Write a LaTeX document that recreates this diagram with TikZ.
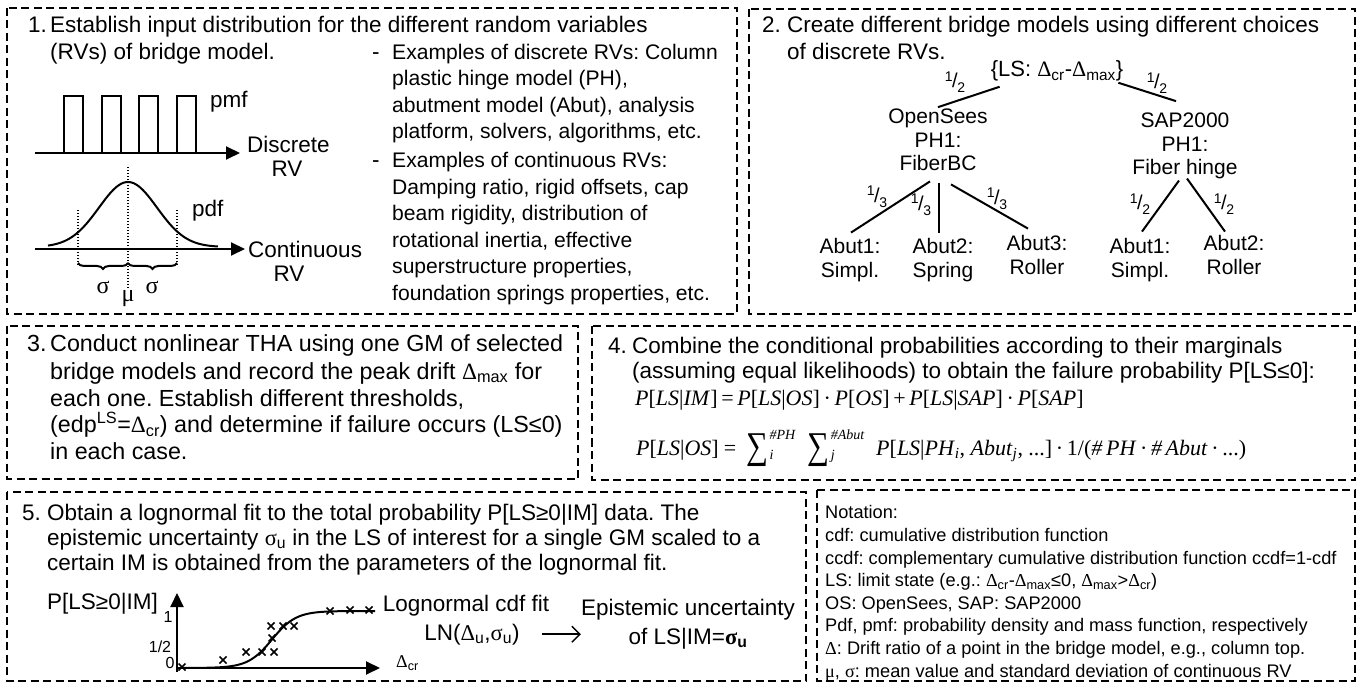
\documentclass[tikz,border=0pt]{standalone}
\usepackage{amsmath}
\usepackage{graphicx}
\usepackage{fontspec}
\setmainfont{Liberation Sans}
\newfontfamily\symf{Liberation Serif}
\usetikzlibrary{arrows.meta,decorations.pathreplacing}
\frenchspacing

% greek letters and formula bits in the serif face
\newcommand{\gr}[1]{{\symf #1}}
\newcommand{\lo}[1]{\textsubscript{#1}}
\newcommand{\fr}[2]{\raisebox{.6ex}{\fontsize{14}{14}\selectfont #1}\kern-.5pt/\kern-.5pt\raisebox{-.5ex}{\fontsize{14}{14}\selectfont #2}}
\newcommand{\sumof}[2]{\raisebox{-4pt}{\scalebox{1.1}[1.35]{\fontsize{28}{28}\selectfont ∑}}\kern1.5pt%
  \rlap{\raisebox{-5pt}{\fontsize{14}{14}\selectfont\itshape #2}}%
  \raisebox{16pt}{\fontsize{14}{14}\selectfont\itshape #1}}

\begin{document}
\begin{tikzpicture}[x=1pt, y=-1pt, font=\fontsize{22.5}{26.5}\selectfont,
  stage/.style={line width=1.7pt, dash pattern=on 8pt off 4.5pt},
  txt/.style={anchor=base west, inner sep=0pt, align=left},
  ctr/.style={anchor=base, inner sep=0pt, align=center},
  tree/.style={ctr, font=\fontsize{21}{23.5}\selectfont},
  link/.style={line width=2pt},
  axisarrow/.style={line width=2pt, -{Triangle[length=14pt,width=13pt]}},
  guide/.style={line width=1.2pt, dash pattern=on 1.5pt off 1.5pt},
  brc/.style={line width=2pt, decorate, decoration={brace, mirror, amplitude=6pt}},
  frac/.style={inner sep=0pt, font=\fontsize{20}{20}\selectfont},
  note/.style={txt, font=\fontsize{18.2}{22.6}\selectfont},
  eqn/.style={txt, font=\symf\fontsize{22}{26}\selectfont},
  ticklbl/.style={inner sep=0pt, font=\fontsize{16}{16}\selectfont}]
  \useasboundingbox (0,0) rectangle (1363,684);
  % the six dashed stages
  \draw[stage] (7,8) rectangle (737,314);
  \draw[stage] (749,9) rectangle (1355,314);
  \draw[stage] (7,326) rectangle (578,479);
  \draw[stage] (592,326) rectangle (1355,480);
  \draw[stage] (7,492) rectangle (806,681);
  \draw[stage] (817,490) rectangle (1355,681);

  % stage 1: input distributions (multi-line nodes sit on their last baseline)
  \node[txt] (n1) at (28,33) {1.};
  \node[txt] (s1) at (50,59.5) {Establish input distribution for the different random variables\\(RVs) of bridge model.};
  \node[txt] (d1) at (372,59.5) {-};
  \node[txt, font=\fontsize{21.1}{26.5}\selectfont] (b1) at (392,139) {Examples of discrete RVs: Column\\plastic hinge model (PH),\\abutment model (Abut), analysis\\platform, solvers, algorithms, etc.};
  \node[txt] (d2) at (372,168) {-};
  \node[txt, font=\fontsize{21.1}{26.5}\selectfont] (b2) at (392,300.5) {Examples of continuous RVs:\\Damping ratio, rigid offsets, cap\\beam rigidity, distribution of\\rotational inertia, effective\\superstructure properties,\\foundation springs properties, etc.};
  % pmf bars
  \foreach \i in {0,...,3}
    \draw[link] (64+37.7*\i,153) |- (83+37.7*\i,96) -- (83+37.7*\i,153);
  \coordinate (pa) at (35,153);
  \coordinate (pb) at (240,153);
  \draw[axisarrow] (pa) -- (pb);
  \node[txt] (pmf) at (210,108) {pmf};
  \node[txt] (disc) at (247,153) {Discrete};
  \node[ctr] (discrv) at (287,177) {RV};
  % pdf, mean and one sigma each side
  \coordinate (ca) at (35,249);
  \coordinate (cb) at (245,249);
  \draw[axisarrow] (ca) -- (cb);
  \draw[line width=2pt] plot[domain=48:218, samples=80, smooth] (\x,{247-65*exp(-((\x-128)/29)*((\x-128)/29)/2)});
  \draw[guide] (78,210) -- (78,266);
  \draw[guide] (177,210) -- (177,266);
  \draw[guide] (128,167) -- (128,290);
  \draw[brc] (78,263) -- (128,263);
  \draw[brc] (128,263) -- (177,263);
  \node[txt] (pdf) at (192,217) {pdf};
  \node[txt] (cont) at (248,258) {Continuous};
  \node[ctr] (contrv) at (289,282) {RV};
  \node[ctr, font=\symf\fontsize{24}{24}\selectfont] (sgl) at (103,294) {σ};
  \node[ctr, font=\symf\fontsize{24}{24}\selectfont] (sgr) at (152,294) {σ};
  \node[ctr, font=\symf\fontsize{24}{24}\selectfont] (mu) at (128,302) {μ};

  % stage 2: model tree
  \node[txt] (n2) at (762,33) {2.};
  \node[txt] (s2) at (787,59.5) {Create different bridge models using different choices\\of discrete RVs.};
  \node[ctr, font=\fontsize{22}{22}\selectfont] (ls) at (1057,77) {\{LS: \gr{Δ}\lo{cr}-\gr{Δ}\lo{max}\}};
  \node[tree] (os) at (938,171) {OpenSees\\PH1:\\FiberBC};
  \node[tree] (sap) at (1185,175) {SAP2000\\PH1:\\Fiber hinge};
  \node[tree] (la) at (850,277.5) {Abut1:\\Simpl.};
  \node[tree] (lb) at (943,277.5) {Abut2:\\Spring};
  \node[tree] (lc) at (1037,274.5) {Abut3:\\Roller};
  \node[tree] (ra) at (1140,277.5) {Abut1:\\Simpl.};
  \node[tree] (rb) at (1234,274.5) {Abut2:\\Roller};
  \draw[link] ([shift={(9pt,-5pt)}]ls.south west) -- ([yshift=2pt]os.north);
  \draw[link] ([shift={(-5pt,-1pt)}]ls.south east) -- ([shift={(-9pt,12pt)}]sap.north);
  \draw[link] ([shift={(-8pt,-10pt)}]os.south) -- ([shift={(1pt,6pt)}]la.north);
  \draw[link] ([shift={(1pt,-12pt)}]os.south) -- ([shift={(-4pt,6pt)}]lb.north);
  \draw[link] ([shift={(13pt,-13pt)}]os.south) -- ([shift={(-9pt,7pt)}]lc.north);
  \draw[link] ([shift={(-6pt,-1pt)}]sap.south) -- ([shift={(2pt,7pt)}]ra.north);
  \draw[link] ([shift={(2pt,1pt)}]sap.south) -- ([shift={(-9pt,4pt)}]rb.north);
  \node[frac] (p1) at (955,82) {\fr12};
  \node[frac] (p2) at (1157,83) {\fr12};
  \node[frac] (p3) at (877,197) {\fr13};
  \node[frac] (p4) at (921,205) {\fr13};
  \node[frac] (p5) at (997,199) {\fr13};
  \node[frac] (p6) at (1140,204) {\fr12};
  \node[frac] (p7) at (1224,204) {\fr12};

  % stage 3
  \node[txt, font=\fontsize{23.3}{27}\selectfont] (n3) at (27,352) {3.};
  \node[txt, font=\fontsize{23.3}{27}\selectfont] (s3) at (50,460) {Conduct nonlinear THA using one GM of selected\\bridge models and record the peak drift \gr{Δ}\lo{max} for\\each one. Establish different thresholds,\\(edp\textsuperscript{LS}=\gr{Δ}\lo{cr}) and determine if failure occurs (LS≤0)\\in each case.};

  % stage 4
  \node[txt] (n4) at (608,354) {4.};
  \node[txt, font=\fontsize{22.5}{25}\selectfont] (s4) at (632,379) {Combine the conditional probabilities according to their marginals\\(assuming equal likelihoods) to obtain the failure probability P[LS≤0]:};
  \node[eqn] (e1) at (635,406) {\textit{P}[\textit{LS}|\textit{IM}]\,=\,\textit{P}[\textit{LS}|\textit{OS}]\,·\,\textit{P}[\textit{OS}]\,+\,\textit{P}[\textit{LS}|\textit{SAP}]\,·\,\textit{P}[\textit{SAP}]};
  \node[eqn] (e2) at (636,455) {\textit{P}[\textit{LS}|\textit{OS}]\hspace{5pt}=\hspace{10pt}\sumof{\#PH}{i}\hspace{12pt}\sumof{\#Abut}{j}\hspace{12pt}\textit{P}[\textit{LS}|\textit{PH}\textsubscript{\textit{i}}, \textit{Abut}\textsubscript{\textit{j}}, ...]\,·\,1/(\textit{\#\,PH}\,·\,\textit{\#\,Abut}\,·\,...)};

  % stage 5: lognormal fit
  \node[txt] (n5) at (22,520) {5.};
  \node[txt, font=\fontsize{22.5}{25}\selectfont] (s5) at (47,570) {Obtain a lognormal fit to the total probability P[LS≥0|IM] data. The\\epistemic uncertainty \gr{σ}\lo{u} in the LS of interest for a single GM scaled to a\\certain IM is obtained from the parameters of the lognormal fit.};
  \node[txt] (pls) at (47,609) {P[LS≥0|IM]};
  \coordinate (o) at (177,668);
  \coordinate (ytop) at (177,593);
  \coordinate (ybot) at (177,672);
  \coordinate (xend) at (380,668);
  \draw[axisarrow] (ybot) -- (ytop);
  \draw[axisarrow] (o) -- (xend);
  \node[ticklbl] (t1) at (168,617) {1};
  \node[ticklbl] (th) at (160,647) {1/2};
  \node[ticklbl] (t0) at (170,663) {0};
  \node[anchor=west, inner sep=0pt, font=\fontsize{18}{18}\selectfont] (dcr) at (396,663) {\gr{Δ}\lo{cr}};
  \draw[line width=2pt] plot[domain=180:375, samples=60, smooth] (\x,{668-57/(1+exp(-(\x-272)/12))});
  \foreach \px/\py in {182/667,223/660,246/652,262/652,274/652,272/638,271/626,283/626,294/626,330/611,350/610,369/610}
    \draw[line width=1.6pt] (\px-3.5,\py-3.5) -- (\px+3.5,\py+3.5) (\px-3.5,\py+3.5) -- (\px+3.5,\py-3.5);
  \node[ctr] (fit) at (466,611) {Lognormal cdf fit};
  \node[ctr] (lnp) at (472,640) {LN(\gr{Δ}\lo{u},\gr{σ}\lo{u})};
  \node[ctr, font=\fontsize{22.5}{29}\selectfont] (epi) at (688,644) {Epistemic uncertainty\\of LS|IM=\textbf{\gr{σ}\lo{u}}};
  \draw[line width=1.4pt, -{Straight Barb[length=8pt,width=16pt]}] ([xshift=22pt]lnp.east) -- (lnp.east -| epi.west);

  % notation
  \node[note] (nt) at (825,677) {Notation:\\cdf: cumulative distribution function\\ccdf: complementary cumulative distribution function ccdf=1-cdf\\LS: limit state (e.g.: \gr{Δ}\lo{cr}-\gr{Δ}\lo{max}≤0, \gr{Δ}\lo{max}>\gr{Δ}\lo{cr})\\OS: OpenSees, SAP: SAP2000\\Pdf, pmf: probability density and mass function, respectively\\\gr{Δ}: Drift ratio of a point in the bridge model, e.g., column top.\\\gr{μ}, \gr{σ}: mean value and standard deviation of continuous RV};
\end{tikzpicture}
\end{document}
